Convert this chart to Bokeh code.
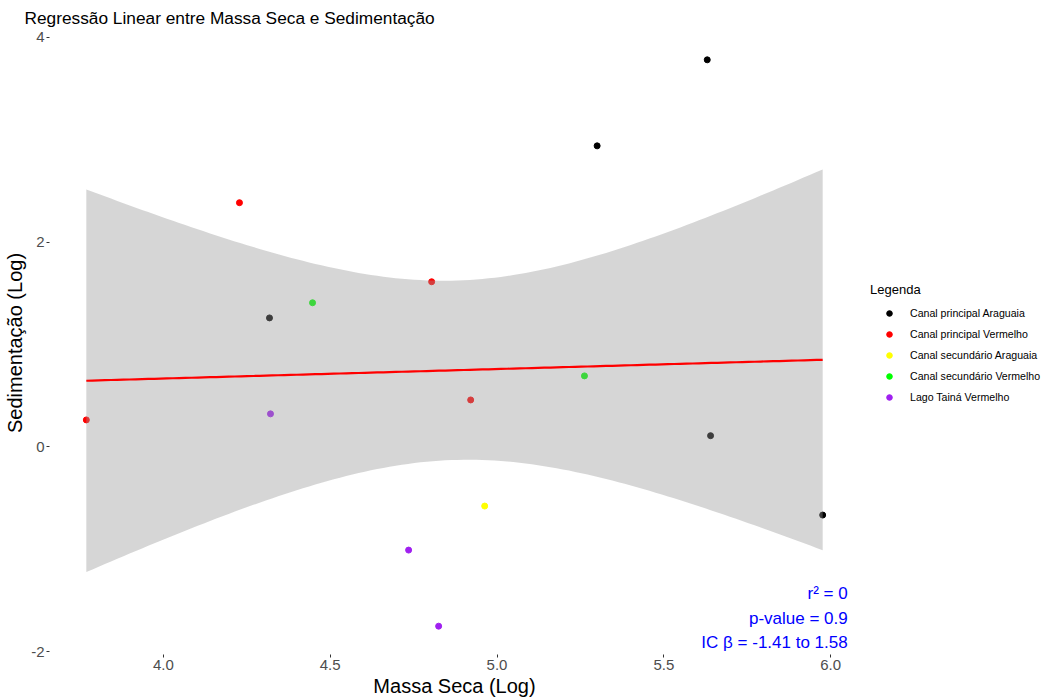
import numpy as np
from bokeh.plotting import figure
from bokeh.models import Range1d, Legend, LegendItem, Label, FixedTicker
from bokeh.embed import file_html
from bokeh.resources import INLINE

# ---------------- data ----------------
groups = ["Canal principal Araguaia", "Canal principal Vermelho",
          "Canal secundário Araguaia", "Canal secundário Vermelho",
          "Lago Tainá Vermelho"]
group_colors = ["#000000", "#FF0000", "#FFFF00", "#00FF00", "#A020F0"]

cpa_x = [5.63, 5.30, 4.318, 5.64, 5.976]
cpa_y = [3.78, 2.94, 1.26, 0.11, -0.665]
cpv_x = [3.769, 4.228, 4.804, 4.921]
cpv_y = [0.264, 2.385, 1.613, 0.459]
csa_x = [4.963]
csa_y = [-0.577]
csv_x = [4.447, 5.262]
csv_y = [1.408, 0.694]
ltv_x = [4.321, 4.735, 4.825]
ltv_y = [0.323, -1.007, -1.75]

group_x = [cpa_x, cpv_x, csa_x, csv_x, ltv_x]
group_y = [cpa_y, cpv_y, csa_y, csv_y, ltv_y]

x_ticks = [4.0, 4.5, 5.0, 5.5, 6.0]
x_tick_labels = ["4.0", "4.5", "5.0", "5.5", "6.0"]
y_ticks = [-2, 0, 2, 4]
y_tick_labels = ["-2", "0", "2", "4"]

stats_text = ["r² = 0", "p-value = 0.9", "IC β = -1.41 to 1.58"]
T_CRIT = 2.160  # t(0.975, df = 13)

# ---------------- regression ----------------
all_x = np.array(sum(group_x, []), dtype=float)
all_y = np.array(sum(group_y, []), dtype=float)
n = len(all_x)
mx, my = all_x.mean(), all_y.mean()
sxx = ((all_x - mx) ** 2).sum()
slope = ((all_x - mx) * (all_y - my)).sum() / sxx
intercept = my - slope * mx
resid = all_y - (intercept + slope * all_x)
s = np.sqrt((resid ** 2).sum() / (n - 2))
xs = np.linspace(all_x.min(), all_x.max(), 120)
fit = intercept + slope * xs
se = s * np.sqrt(1.0 / n + (xs - mx) ** 2 / sxx)
lower = fit - T_CRIT * se
upper = fit + T_CRIT * se

ylo = min(all_y.min(), lower.min())
yhi = max(all_y.max(), upper.max())
xlo, xhi = all_x.min(), all_x.max()
ex = 0.05 * (xhi - xlo)
ey = 0.05 * (yhi - ylo)

# ---------------- figure ----------------
FONT = "Liberation Sans"
p = figure(frame_width=810, frame_height=623, output_backend="svg", toolbar_location=None,
           x_range=Range1d(xlo - ex, xhi + ex), y_range=Range1d(ylo - ey, yhi + ey),
           min_border_left=49, min_border_right=180, min_border_top=31, min_border_bottom=38)
p.background_fill_color = "white"
p.border_fill_color = "white"
p.outline_line_color = None
p.xgrid.visible = False
p.ygrid.visible = False

p.title.text = "Regressão Linear entre Massa Seca e Sedimentação"
p.title.align = "left"
p.title.offset = -25
p.title.standoff = 7
p.title.text_font = FONT
p.title.text_font_size = "17.3px"
p.title.text_font_style = "normal"
p.title.text_color = "black"

for ax in (p.xaxis[0], p.yaxis[0]):
    ax.axis_line_color = None
    ax.major_tick_line_color = "#333333"
    ax.major_tick_out = 3
    ax.major_tick_in = 0
    ax.minor_tick_line_color = None
    ax.major_label_text_font = FONT
    ax.major_label_text_font_size = "15px"
    ax.major_label_text_color = "#4d4d4d"
    ax.major_label_standoff = 2
    ax.axis_label_text_font = FONT
    ax.axis_label_text_font_size = "20px"
    ax.axis_label_text_font_style = "normal"
    ax.axis_label_text_color = "black"
    ax.axis_label_standoff = 2

p.xaxis.axis_label = "Massa Seca (Log)"
p.yaxis.axis_label = "Sedimentação (Log)"
p.xaxis.ticker = FixedTicker(ticks=x_ticks)
p.xaxis.major_label_overrides = {t: l for t, l in zip(x_ticks, x_tick_labels)}
p.yaxis.ticker = FixedTicker(ticks=y_ticks)
p.yaxis.major_label_overrides = {t: l for t, l in zip(y_ticks, y_tick_labels)}

items = []
for name, col, gx, gy in zip(groups, group_colors, group_x, group_y):
    r = p.scatter(gx, gy, size=6, fill_color=col, line_color=col)
    items.append(LegendItem(label=name, renderers=[r]))

p.varea(x=xs, y1=lower, y2=upper, fill_color="#999999", fill_alpha=0.4)
p.line(xs, fit, line_color="#FF0000", line_width=2.2)

legend = Legend(items=items, location="center_left", title="Legenda",
                title_text_font=FONT, title_text_font_size="13px", title_text_font_style="normal",
                title_text_color="black",
                label_text_font=FONT, label_text_font_size="10.6px", label_text_color="black",
                glyph_width=38, glyph_height=14, label_standoff=2, label_height=14,
                spacing=7, padding=0, margin=11, title_standoff=9,
                border_line_color=None, background_fill_alpha=0)
p.add_layout(legend, "right")

stat_y = [-1.427, -1.672, -1.906]
for txt, yy in zip(stats_text, stat_y):
    p.add_layout(Label(x=6.051, y=yy, text=txt, text_align="right", text_baseline="middle",
                       text_font=FONT, text_font_size="17px", text_color="#0000FF"))

open("out.html", "w").write(file_html(p, INLINE))
